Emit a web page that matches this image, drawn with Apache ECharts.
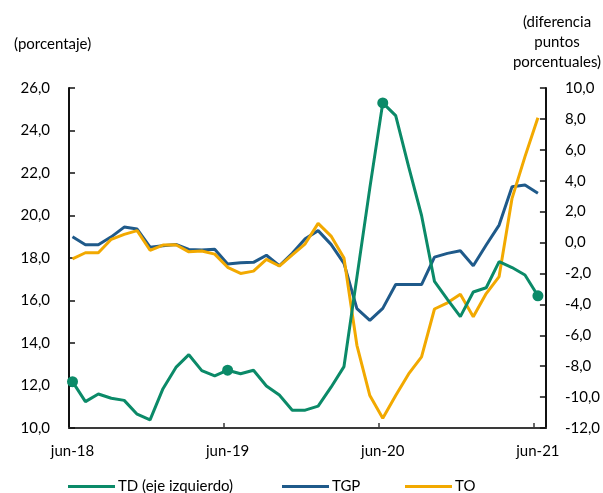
<!DOCTYPE html>
<html>
<head>
<meta charset="utf-8">
<script src="https://cdn.jsdelivr.net/npm/echarts@6/dist/echarts.min.js"></script>
<style>
html,body{margin:0;padding:0;background:#fff;}
#chart{width:603px;height:493px;}
</style>
</head>
<body>
<div id="chart"></div>
<script>
// Months jun-18 .. jun-21 (index 0..36)
const months = ['jun-18','jul-18','ago-18','sep-18','oct-18','nov-18','dic-18','ene-19','feb-19','mar-19','abr-19','may-19',
  'jun-19','jul-19','ago-19','sep-19','oct-19','nov-19','dic-19','ene-20','feb-20','mar-20','abr-20','may-20',
  'jun-20','jul-20','ago-20','sep-20','oct-20','nov-20','dic-20','ene-21','feb-21','mar-21','abr-21','may-21','jun-21'];
const tickLabels = {0:'jun-18', 12:'jun-19', 24:'jun-20', 36:'jun-21'};
const labelPositions = [0, 12, 24, 36];
const tickPositions = [11.7, 23.7, 35.7];

// TD (left axis, %)
const td = [12.18, 11.24, 11.6, 11.4, 11.3, 10.65, 10.38, 11.85, 12.85, 13.45, 12.7, 12.45,
  12.72, 12.55, 12.72, 11.98, 11.55, 10.84, 10.84, 11.03, 11.92, 12.89, 17.1, 21.3,
  25.3, 24.7, 22.3, 20.0, 16.9, 16.05, 15.24, 16.4, 16.6, 17.83, 17.55, 17.2, 16.22];
// TGP (right axis, p.p.)
const tgp = [0.37, -0.14, -0.14, 0.37, 1.0, 0.87, -0.3, -0.2, -0.12, -0.45, -0.48, -0.44,
  -1.39, -1.3, -1.28, -0.82, -1.5, -0.7, 0.25, 0.77, -0.12, -1.35, -4.28, -5.03,
  -4.26, -2.72, -2.72, -2.72, -0.94, -0.7, -0.53, -1.5, -0.16, 1.13, 3.61, 3.72, 3.19];
// TO (right axis, p.p.)
const to = [-1.05, -0.66, -0.66, 0.21, 0.53, 0.77, -0.5, -0.16, -0.14, -0.6, -0.55, -0.75,
  -1.6, -2.0, -1.85, -1.09, -1.52, -0.8, -0.08, 1.24, 0.42, -1.0, -6.65, -9.9,
  -11.37, -9.9, -8.5, -7.4, -4.3, -3.9, -3.35, -4.8, -3.3, -2.2, 2.86, 5.56, 8.08];
const tdMarkers = [0, 12, 24, 36];

const FONT = 'Lato, "Open Sans", sans-serif';
const cGreen = '#0B8A68', cBlue = '#1F5A8A', cOrange = '#F2A900';
const pairs = arr => arr.map((v, i) => [i, v]);
const fmt = v => v.toFixed(1).replace('.', ',');

const chart = echarts.init(document.getElementById('chart'), null, {renderer: 'canvas'});
const legendBase = {icon: 'rect', itemWidth: 47, itemHeight: 3, itemGap: 0,
  textStyle: {fontFamily: FONT, fontSize: 15, color: '#000', padding: [0,0,0,-2]}};
chart.setOption({
  animation: false,
  backgroundColor: '#fff',
  title: [
    {text: '(porcentaje)', left: 9, top: 32, textStyle: {fontFamily: FONT, fontSize: 15, fontWeight: 'normal', color: '#000'}},
    {text: '(diferencia\npuntos\nporcentuales)', left: 552, top: 7, textAlign: 'center',
     textStyle: {fontFamily: FONT, fontSize: 15, fontWeight: 'normal', color: '#000', lineHeight: 20, align: 'center'}}
  ],
  legend: [
    Object.assign({}, legendBase, {left: 63, top: 474, data: ['TD (eje izquierdo)']}),
    Object.assign({}, legendBase, {left: 277, top: 474, data: ['TGP']}),
    Object.assign({}, legendBase, {left: 400, top: 474, data: ['TO']})
  ],
  grid: {left: 69, right: 55, top: 88, bottom: 65, containLabel: false},
  xAxis: {
    type: 'value', min: -0.27, max: 36.62,
    splitLine: {show: false},
    axisLine: {onZero: false, lineStyle: {color: '#3a3a3a', width: 2}},
    axisTick: {show: true, inside: true, length: 5, customValues: tickPositions, lineStyle: {color: '#3a3a3a', width: 1.5}},
    axisLabel: {customValues: labelPositions, formatter: v => tickLabels[Math.round(v)] || '',
      fontFamily: FONT, fontSize: 15, color: '#000', margin: 16}
  },
  yAxis: [
    {type: 'value', min: 10, max: 26, interval: 2, position: 'left',
     splitLine: {show: false},
     axisLine: {show: true, onZero: false, lineStyle: {color: '#111', width: 2}},
     axisTick: {show: true, inside: true, length: 6, lineStyle: {color: '#111', width: 1.5}},
     axisLabel: {formatter: fmt, fontFamily: FONT, fontSize: 15, color: '#000', margin: 19}},
    {type: 'value', min: -12, max: 10, interval: 2, position: 'right',
     splitLine: {show: false},
     axisLine: {show: true, onZero: false, lineStyle: {color: '#111', width: 2}},
     axisTick: {show: true, inside: true, length: 6, lineStyle: {color: '#111', width: 1.5}},
     axisLabel: {formatter: fmt, fontFamily: FONT, fontSize: 15, color: '#000', margin: 19}}
  ],
  series: [
    {name: 'TD (eje izquierdo)', type: 'line', yAxisIndex: 0, data: pairs(td),
     color: cGreen, lineStyle: {width: 3, color: cGreen},
     showSymbol: true, showAllSymbol: true, symbol: 'circle',
     symbolSize: (val, p) => tdMarkers.includes(p.dataIndex) ? 11 : 0,
     itemStyle: {color: cGreen}, z: 3},
    {name: 'TGP', type: 'line', yAxisIndex: 1, data: pairs(tgp),
     color: cBlue, lineStyle: {width: 3, color: cBlue}, showSymbol: false, symbol: 'none', z: 2},
    {name: 'TO', type: 'line', yAxisIndex: 1, data: pairs(to),
     color: cOrange, lineStyle: {width: 3, color: cOrange}, showSymbol: false, symbol: 'none', z: 2}
  ]
});
</script>
</body>
</html>
